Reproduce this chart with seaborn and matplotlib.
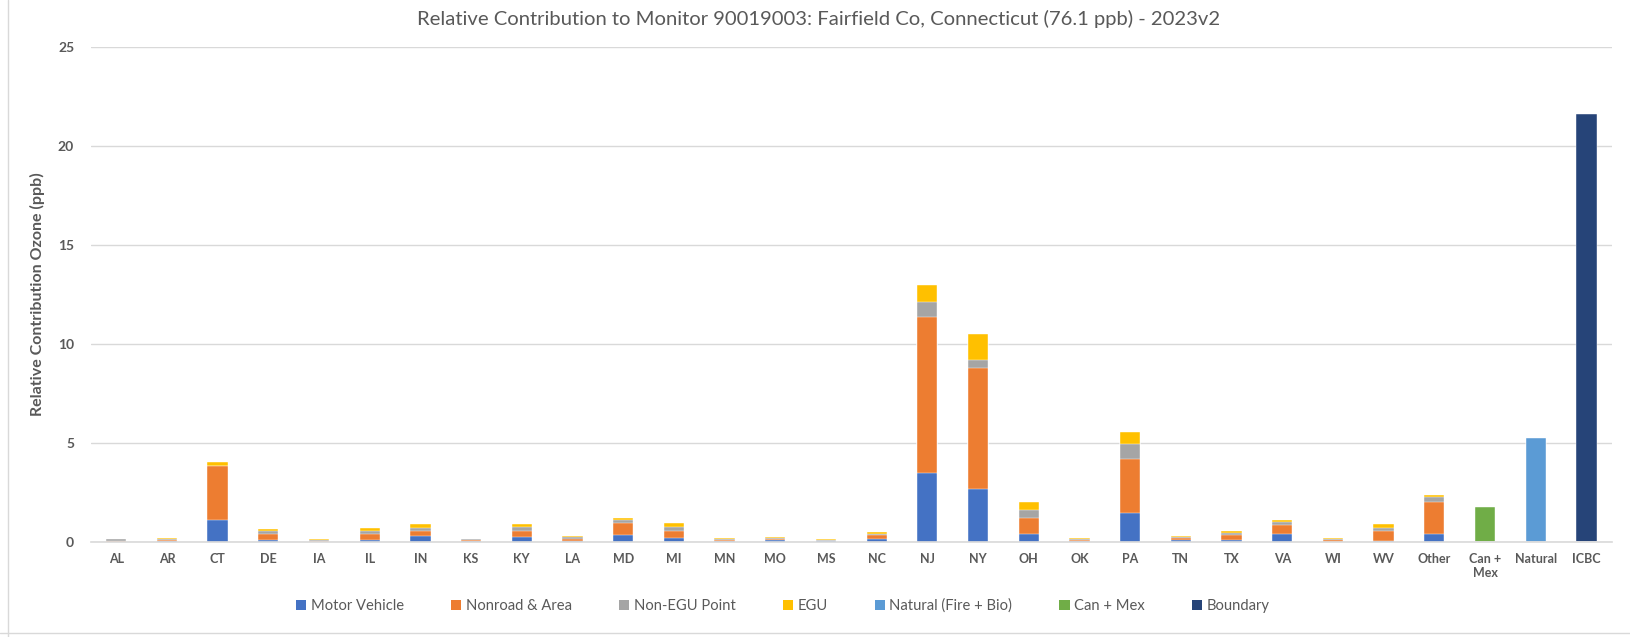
import numpy as np
import pandas as pd
import matplotlib
matplotlib.use("Agg")
import matplotlib.pyplot as plt
import seaborn as sns
from matplotlib.lines import Line2D
from matplotlib.patches import Patch

# categories along the x axis
states = ['AL', 'AR', 'CT', 'DE', 'IA', 'IL', 'IN', 'KS', 'KY', 'LA', 'MD', 'MI', 'MN', 'MO', 'MS',
          'NC', 'NJ', 'NY', 'OH', 'OK', 'PA', 'TN', 'TX', 'VA', 'WI', 'WV', 'Other',
          'Can +\nMex', 'Natural', 'ICBC']

# ppb contributions (27 state/other columns)
motor_vehicle = [0.01, 0.02, 1.10, 0.10, 0.01, 0.10, 0.27, 0.02, 0.25, 0.05, 0.34, 0.20, 0.02, 0.08, 0.02,
                 0.15, 3.48, 2.64, 0.40, 0.02, 1.45, 0.08, 0.08, 0.37, 0.01, 0.06, 0.40]
nonroad_area = [0.03, 0.08, 2.70, 0.30, 0.03, 0.30, 0.27, 0.08, 0.29, 0.07, 0.62, 0.34, 0.08, 0.08, 0.03,
                0.17, 7.85, 6.11, 0.81, 0.07, 2.71, 0.10, 0.27, 0.47, 0.08, 0.50, 1.62]
non_egu_point = [0.08, 0.03, 0.04, 0.14, 0.06, 0.16, 0.15, 0.02, 0.22, 0.13, 0.15, 0.22, 0.04, 0.05, 0.06,
                 0.07, 0.79, 0.41, 0.41, 0.07, 0.79, 0.07, 0.10, 0.17, 0.05, 0.15, 0.22]
egu = [0.03, 0.04, 0.19, 0.10, 0.03, 0.15, 0.20, 0.02, 0.13, 0.05, 0.10, 0.17, 0.03, 0.03, 0.02,
       0.12, 0.84, 1.33, 0.37, 0.03, 0.59, 0.04, 0.07, 0.07, 0.03, 0.18, 0.10]
can_mex = 1.75
natural = 5.24
boundary = 21.6

series_names = ['Motor Vehicle', 'Nonroad & Area', 'Non-EGU Point', 'EGU',
                'Natural (Fire + Bio)', 'Can + Mex', 'Boundary']
colors = ['#4472C4', '#ED7D31', '#A5A5A5', '#FFC000', '#5B9BD5', '#70AD47', '#264478']

pad = [0.0, 0.0, 0.0]
df = pd.DataFrame({
    'cat': states,
    'Motor Vehicle': motor_vehicle + pad,
    'Nonroad & Area': nonroad_area + pad,
    'Non-EGU Point': non_egu_point + pad,
    'EGU': egu + pad,
    'Natural (Fire + Bio)': [0.0] * 28 + [natural, 0.0],
    'Can + Mex': [0.0] * 27 + [can_mex, 0.0, 0.0],
    'Boundary': [0.0] * 29 + [boundary],
})

sns.set_style("white")
plt.rcParams['font.family'] = ['Lato', 'DejaVu Sans']

fig = plt.figure(figsize=(16.31, 6.37), dpi=100)
ax = fig.add_axes([0.0557, 0.1496, 0.9325, 0.777])

# stacked bars: draw cumulative totals from the top series down
cum = df[series_names].cumsum(axis=1)
for name, col in reversed(list(zip(series_names, colors))):
    sns.barplot(x=df['cat'], y=cum[name], color=col, width=0.4, ax=ax,
                edgecolor='white', linewidth=0.3, saturation=1, errorbar=None)

ax.set_ylim(0, 25)
ax.set_yticks([0, 5, 10, 15, 20, 25])
ax.set_xlim(-0.5, len(states) - 0.5)
ax.yaxis.grid(True, color='#D9D9D9', linewidth=1)
ax.set_axisbelow(True)
for s in ['top', 'right', 'left']:
    ax.spines[s].set_visible(False)
ax.spines['bottom'].set_color('#D9D9D9')
ax.spines['bottom'].set_linewidth(1.2)
ax.tick_params(axis='x', length=0, labelsize=9, labelcolor='#595959', pad=8)
ax.tick_params(axis='y', length=0, labelsize=10, labelcolor='#595959', pad=12)
for lbl in ax.get_xticklabels() + ax.get_yticklabels():
    lbl.set_fontweight('bold')
ax.set_xlabel('')
ax.set_ylabel('Relative Contribution Ozone (ppb)', fontsize=11.5, fontweight='bold',
              color='#595959', labelpad=9)

fig.suptitle('Relative Contribution to Monitor 90019003: Fairfield Co, Connecticut (76.1 ppb) - 2023v2',
             x=0.502, y=0.985, fontsize=14.6, color='#595959')

handles = [Patch(facecolor=c, edgecolor='none') for c in colors]
fig.legend(handles, series_names, loc='center', bbox_to_anchor=(0.48, 0.049), ncol=7,
           frameon=False, fontsize=10.6, labelcolor='#595959', handlelength=0.7, handleheight=0.7,
           handletextpad=0.3, columnspacing=3.2)

# sheet frame lines seen around the chart
fig.add_artist(Line2D([0.005, 0.005], [0.0, 1.0], color='#D9D9D9', linewidth=1))
fig.add_artist(Line2D([0.0, 1.0], [0.006, 0.006], color='#D9D9D9', linewidth=1))

fig.savefig('out.png', dpi=100)
